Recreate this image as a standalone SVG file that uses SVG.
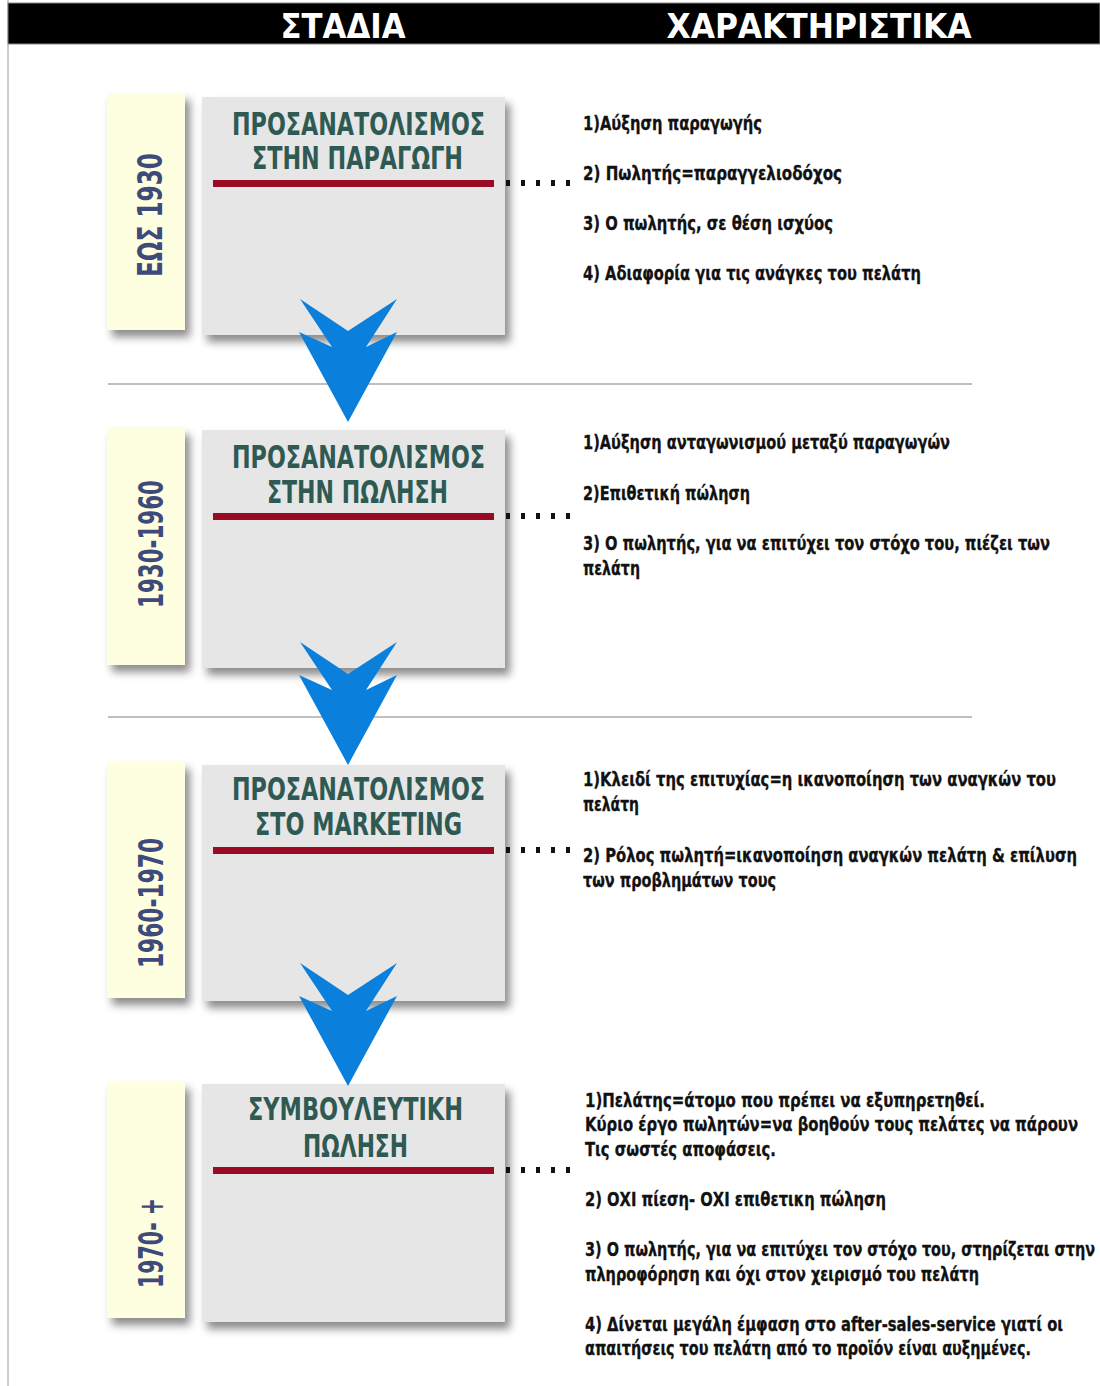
<svg xmlns="http://www.w3.org/2000/svg" width="1100" height="1386" viewBox="0 0 1100 1386">
<defs>
<style>
text{font-family:"Liberation Sans Narrow","DejaVu Sans Condensed","Liberation Sans",sans-serif;font-weight:bold;font-stretch:condensed}
.hdr{font-size:34px;fill:#ffffff;text-anchor:middle}
.title{font-size:32px;fill:#2f5a53;text-anchor:middle}
.year{font-size:34px;fill:#3d4a7a;text-anchor:middle}
.item{font-size:20px;fill:#111111;stroke:#111111;stroke-width:0.3}
.ybox{fill:#fefee0;filter:url(#sh)}
.gbox{fill:#e6e6e6;filter:url(#sh)}
.bar{fill:#9a0a25}
.sep{stroke:#bfbfbf;stroke-width:2}
.dots{stroke:#111111;stroke-width:6;stroke-dasharray:4 11;fill:none}
.arrow{fill:#0a80dc}
</style>
<filter id="sh" x="-20%" y="-20%" width="150%" height="150%">
<feDropShadow dx="5" dy="7" stdDeviation="4" flood-color="#000000" flood-opacity="0.45"/>
</filter>
<polygon id="chev" points="0,0 48,32 97,0 66,48 97,33 48,123 -1,33 32,48"/>
</defs>
<rect x="0" y="0" width="1100" height="1386" fill="#ffffff"/>
<line x1="8" y1="0" x2="8" y2="1386" stroke="#9a9a9a" stroke-width="1"/>
<g id="header">
<rect x="8" y="3" width="1092" height="41" fill="#000000" stroke="#888888" stroke-width="1"/>
<text class="hdr" x="343" y="38" textLength="125" lengthAdjust="spacingAndGlyphs">ΣΤΑΔΙΑ</text>
<text class="hdr" x="819" y="38" textLength="305" lengthAdjust="spacingAndGlyphs">ΧΑΡΑΚΤΗΡΙΣΤΙΚΑ</text>
</g>
<line class="sep" x1="108" y1="384" x2="972" y2="384"/>
<line class="sep" x1="108" y1="717" x2="972" y2="717"/>

<g id="stage1">
<rect class="ybox" x="107" y="93" width="78" height="237"/>
<text class="year" transform="translate(162,215) rotate(-90)" textLength="124" lengthAdjust="spacingAndGlyphs">ΕΩΣ 1930</text>
<rect class="gbox" x="202" y="97" width="303" height="238"/>
<text class="title"><tspan x="358.5" y="135" textLength="253" lengthAdjust="spacingAndGlyphs">ΠΡΟΣΑΝΑΤΟΛΙΣΜΟΣ</tspan><tspan x="357.5" y="169" textLength="211" lengthAdjust="spacingAndGlyphs">ΣΤΗΝ ΠΑΡΑΓΩΓΗ</tspan></text>
<rect class="bar" x="213" y="180" width="281" height="7"/>
</g>
<g id="chars1">
<text class="item" x="583" y="130" textLength="179" lengthAdjust="spacingAndGlyphs">1)Αύξηση παραγωγής</text>
<text class="item" x="583" y="180" textLength="259" lengthAdjust="spacingAndGlyphs">2) Πωλητής=παραγγελιοδόχος</text>
<text class="item" x="583" y="230" textLength="250" lengthAdjust="spacingAndGlyphs">3) Ο πωλητής, σε θέση ισχύος</text>
<text class="item" x="583" y="280" textLength="338" lengthAdjust="spacingAndGlyphs">4) Αδιαφορία για τις ανάγκες του πελάτη</text>
</g>

<g id="stage2">
<rect class="ybox" x="107" y="428" width="78" height="237"/>
<text class="year" transform="translate(163,544) rotate(-90)" textLength="128" lengthAdjust="spacingAndGlyphs">1930-1960</text>
<rect class="gbox" x="202" y="430" width="303" height="238"/>
<text class="title"><tspan x="358.5" y="468" textLength="253" lengthAdjust="spacingAndGlyphs">ΠΡΟΣΑΝΑΤΟΛΙΣΜΟΣ</tspan><tspan x="357.5" y="503" textLength="181" lengthAdjust="spacingAndGlyphs">ΣΤΗΝ ΠΩΛΗΣΗ</tspan></text>
<rect class="bar" x="213" y="513" width="281" height="7"/>
</g>
<g id="chars2">
<text class="item" x="583" y="449" textLength="367" lengthAdjust="spacingAndGlyphs">1)Αύξηση ανταγωνισμού μεταξύ παραγωγών</text>
<text class="item" x="583" y="500" textLength="167" lengthAdjust="spacingAndGlyphs">2)Επιθετική πώληση</text>
<text class="item"><tspan x="583" y="550" textLength="467" lengthAdjust="spacingAndGlyphs">3) Ο πωλητής, για να επιτύχει τον στόχο του, πιέζει των</tspan><tspan x="583" y="575" textLength="57" lengthAdjust="spacingAndGlyphs">πελάτη</tspan></text>
</g>

<g id="stage3">
<rect class="ybox" x="107" y="762" width="78" height="236"/>
<text class="year" transform="translate(163,903) rotate(-90)" textLength="130" lengthAdjust="spacingAndGlyphs">1960-1970</text>
<rect class="gbox" x="202" y="765" width="303" height="236"/>
<text class="title"><tspan x="358.5" y="800" textLength="253" lengthAdjust="spacingAndGlyphs">ΠΡΟΣΑΝΑΤΟΛΙΣΜΟΣ</tspan><tspan x="358.5" y="835" textLength="207" lengthAdjust="spacingAndGlyphs">ΣΤΟ MARKETING</tspan></text>
<rect class="bar" x="213" y="847" width="281" height="7"/>
</g>
<g id="chars3">
<text class="item"><tspan x="583" y="786" textLength="473" lengthAdjust="spacingAndGlyphs">1)Κλειδί της επιτυχίας=η ικανοποίηση των αναγκών του</tspan><tspan x="583" y="811" textLength="56" lengthAdjust="spacingAndGlyphs">πελάτη</tspan></text>
<text class="item"><tspan x="583" y="862" textLength="494" lengthAdjust="spacingAndGlyphs">2) Ρόλος πωλητή=ικανοποίηση αναγκών πελάτη &amp; επίλυση</tspan><tspan x="583" y="887" textLength="193" lengthAdjust="spacingAndGlyphs">των προβλημάτων τους</tspan></text>
</g>

<g id="stage4">
<rect class="ybox" x="107" y="1082" width="78" height="236"/>
<text class="year" transform="translate(163,1243) rotate(-90)" textLength="90" lengthAdjust="spacingAndGlyphs">1970- +</text>
<rect class="gbox" x="202" y="1084" width="303" height="238"/>
<text class="title"><tspan x="355.5" y="1120" textLength="215" lengthAdjust="spacingAndGlyphs">ΣΥΜΒΟΥΛΕΥΤΙΚΗ</tspan><tspan x="355.5" y="1157" textLength="105" lengthAdjust="spacingAndGlyphs">ΠΩΛΗΣΗ</tspan></text>
<rect class="bar" x="213" y="1167" width="281" height="7"/>
</g>
<g id="chars4">
<text class="item"><tspan x="585" y="1107" textLength="400" lengthAdjust="spacingAndGlyphs">1)Πελάτης=άτομο που πρέπει να εξυπηρετηθεί.</tspan><tspan x="585" y="1131" textLength="493" lengthAdjust="spacingAndGlyphs">Κύριο έργο πωλητών=να βοηθούν τους πελάτες να πάρουν</tspan><tspan x="585" y="1156" textLength="191" lengthAdjust="spacingAndGlyphs">Τις σωστές αποφάσεις.</tspan></text>
<text class="item" x="585" y="1206" textLength="301" lengthAdjust="spacingAndGlyphs">2) ΟΧΙ πίεση- ΟΧΙ επιθετικη πώληση</text>
<text class="item"><tspan x="585" y="1256" textLength="510" lengthAdjust="spacingAndGlyphs">3) Ο πωλητής, για να επιτύχει τον στόχο του, στηρίζεται στην</tspan><tspan x="585" y="1281" textLength="394" lengthAdjust="spacingAndGlyphs">πληροφόρηση και όχι στον χειρισμό του πελάτη</tspan></text>
<text class="item"><tspan x="585" y="1331" textLength="478" lengthAdjust="spacingAndGlyphs">4) Δίνεται μεγάλη έμφαση στο after-sales-service γιατί οι</tspan><tspan x="585" y="1355" textLength="446" lengthAdjust="spacingAndGlyphs">απαιτήσεις του πελάτη από το προϊόν είναι αυξημένες.</tspan></text>
</g>

<g id="connectors">
<line class="dots" x1="506" y1="183" x2="572" y2="183"/>
<line class="dots" x1="506" y1="516" x2="572" y2="516"/>
<line class="dots" x1="506" y1="850" x2="572" y2="850"/>
<line class="dots" x1="506" y1="1170" x2="572" y2="1170"/>
<use href="#chev" class="arrow" x="300" y="299"/>
<use href="#chev" class="arrow" x="300" y="642"/>
<use href="#chev" class="arrow" x="300" y="963"/>
</g>
</svg>
